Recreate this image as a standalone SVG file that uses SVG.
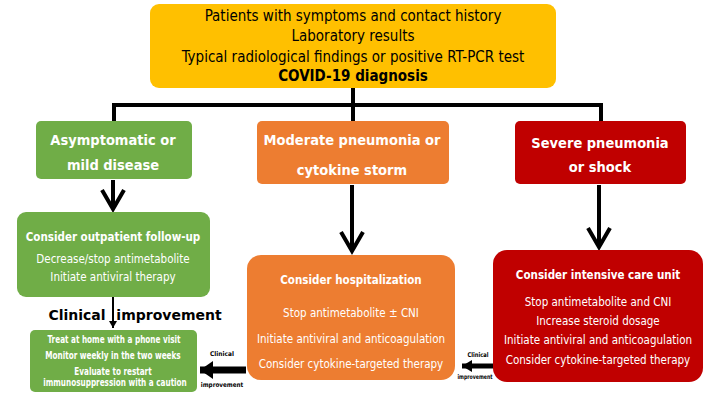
<svg xmlns="http://www.w3.org/2000/svg" width="720" height="405" viewBox="0 0 720 405">
<defs>
<style>
text{font-family:"DejaVu Sans Condensed","DejaVu Sans",sans-serif;text-anchor:middle}
.b{font-weight:bold}
.top{font-size:15px;fill:#000}
.hdr{font-size:14.5px;font-weight:bold;fill:#fff}
.body{font-size:11.5px;fill:#fff}
.small{font-size:10.5px;font-weight:bold;fill:#fff}
.ci{font-family:"DejaVu Sans",sans-serif;font-size:14px;font-weight:bold;fill:#000}
.tiny{font-family:"DejaVu Sans",sans-serif;font-size:6.5px;font-weight:bold;fill:#000}
.conn{fill:none;stroke:#000;stroke-width:4}
</style>
<marker id="chev" markerUnits="userSpaceOnUse" viewBox="-24 -14 28 28" markerWidth="28" markerHeight="28" refX="0" refY="0" orient="auto">
<path d="M-19,-11 L0,0 L-19,11" fill="none" stroke="#000" stroke-width="4"/>
</marker>
<marker id="tri" markerUnits="userSpaceOnUse" viewBox="-14 -11 16 22" markerWidth="16" markerHeight="22" refX="0" refY="0" orient="auto">
<path d="M-13,-9 L0,0 L-13,9 Z" fill="#000"/>
</marker>
<marker id="tri2" markerUnits="userSpaceOnUse" viewBox="-12 -7 14 14" markerWidth="14" markerHeight="14" refX="0" refY="0" orient="auto">
<path d="M-10,-6 L0,0 L-10,6 Z" fill="#000"/>
</marker>
<marker id="tri3" markerUnits="userSpaceOnUse" viewBox="-8 -5 10 10" markerWidth="10" markerHeight="10" refX="0" refY="0" orient="auto">
<path d="M-7,-4 L0,0 L-7,4 Z" fill="#000"/>
</marker>
</defs>
<rect width="720" height="405" fill="#fff"/>

<g id="connectors">
<path class="conn" d="M353,88 V105 M114,105 H601 M114,103 V122 M353,103 V122 M601,103 V122"/>
<path class="conn" d="M113,180 V209" marker-end="url(#chev)"/>
<path class="conn" d="M352,185 V251" marker-end="url(#chev)"/>
<path class="conn" d="M599,185 V247" marker-end="url(#chev)"/>
<path fill="none" stroke="#000" stroke-width="2" d="M113,297 V328" marker-end="url(#tri3)"/>
<path fill="none" stroke="#000" stroke-width="7" d="M246,370 H200" marker-end="url(#tri)"/>
<path fill="none" stroke="#000" stroke-width="5" d="M494,366 H462" marker-end="url(#tri2)"/>
<text class="ci" x="77" y="320">Clinical</text>
<text class="ci" x="169" y="320">improvement</text>
<text class="tiny" transform="translate(222,356) scale(0.9,1)">Clinical</text>
<text class="tiny" transform="translate(222,387) scale(0.87,1)">improvement</text>
<text class="tiny" transform="translate(478,357) scale(0.8,1)">Clinical</text>
<text class="tiny" transform="translate(475,379) scale(0.72,1)">improvement</text>
</g>

<g id="diagnosis">
<rect x="150" y="4" width="406" height="84" rx="9" fill="#FFC000"/>
<text class="top" x="353" y="21">Patients with symptoms and contact history</text>
<text class="top" x="353" y="41">Laboratory results</text>
<text class="top" x="353" y="62">Typical radiological findings or positive RT-PCR test</text>
<text class="top b" x="353" y="81">COVID-19 diagnosis</text>
</g>

<g id="mild">
<rect x="36" y="121" width="156" height="58" rx="5" fill="#70AD47"/>
<text class="hdr" x="113" y="145">Asymptomatic or</text>
<text class="hdr" x="113" y="170">mild disease</text>
</g>

<g id="moderate">
<rect x="257" y="121" width="192" height="63" rx="5" fill="#ED7D31"/>
<text class="hdr" x="352" y="145">Moderate pneumonia or</text>
<text class="hdr" x="352" y="175">cytokine storm</text>
</g>

<g id="severe">
<rect x="515" y="121" width="171" height="63" rx="5" fill="#C00000"/>
<text class="hdr" x="600" y="148">Severe pneumonia</text>
<text class="hdr" x="600" y="172">or shock</text>
</g>

<g id="outpatient">
<rect x="17" y="212" width="193" height="85" rx="9" fill="#70AD47"/>
<text class="body b" x="113" y="241">Consider outpatient follow-up</text>
<text class="body" x="113" y="263">Decrease/stop antimetabolite</text>
<text class="body" x="113" y="281">Initiate antiviral therapy</text>
</g>

<g id="home">
<rect x="30" y="330" width="167" height="62" rx="5" fill="#70AD47"/>
<text class="small" transform="translate(114,343) scale(0.77,1)">Treat at home with a phone visit</text>
<text class="small" transform="translate(113,359) scale(0.77,1)">Monitor weekly in the two weeks</text>
<text class="small" transform="translate(113,375) scale(0.77,1)">Evaluate to restart</text>
<text class="small" transform="translate(115,386) scale(0.77,1)">immunosuppression with a caution</text>
</g>

<g id="hospital">
<rect x="247" y="255" width="208" height="125" rx="14" fill="#ED7D31"/>
<text class="body b" x="351" y="284">Consider hospitalization</text>
<text class="body" x="351" y="317">Stop antimetabolite ± CNI</text>
<text class="body" x="351" y="343">Initiate antiviral and anticoagulation</text>
<text class="body" x="351" y="368">Consider cytokine-targeted therapy</text>
</g>

<g id="icu">
<rect x="493" y="250" width="210" height="132" rx="14" fill="#C00000"/>
<text class="body b" x="598" y="279">Consider intensive care unit</text>
<text class="body" x="598" y="306">Stop antimetabolite and CNI</text>
<text class="body" x="598" y="325">Increase steroid dosage</text>
<text class="body" x="598" y="344">Initiate antiviral and anticoagulation</text>
<text class="body" x="598" y="364">Consider cytokine-targeted therapy</text>
</g>
</svg>
